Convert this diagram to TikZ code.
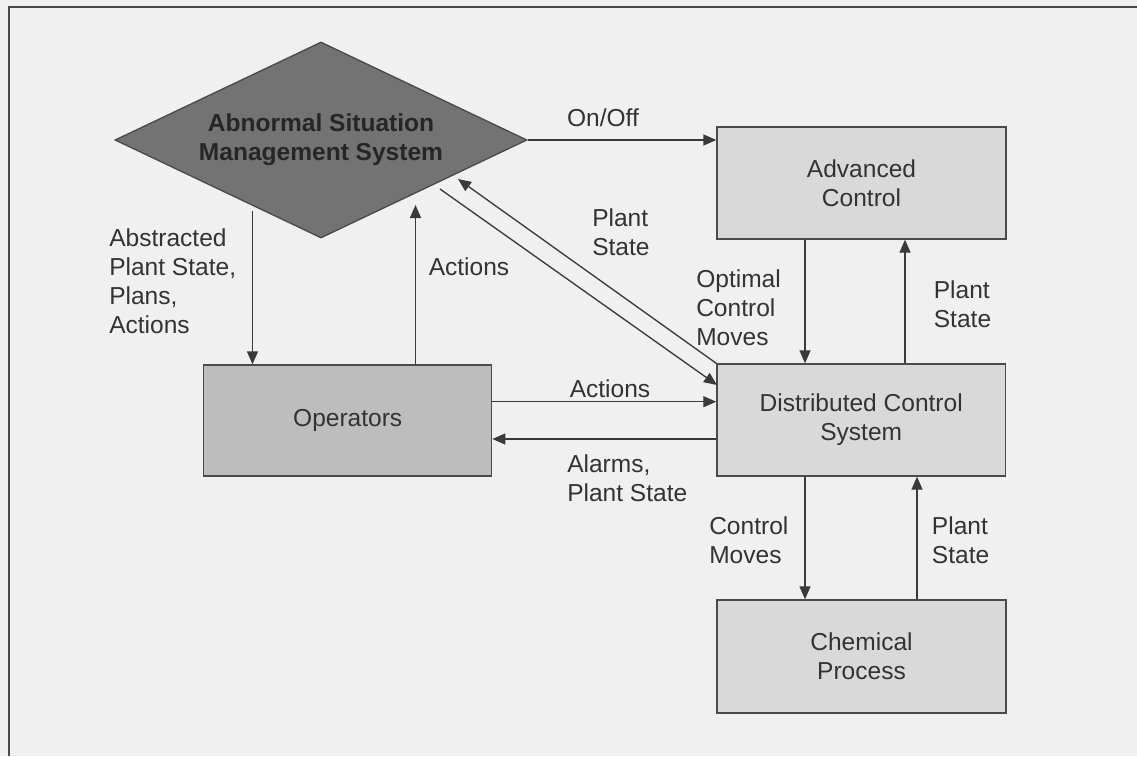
\documentclass[tikz,border=0pt]{standalone}
\usepackage{fontspec}
\setmainfont{Liberation Sans}
\usetikzlibrary{shapes.geometric,arrows.meta}
\definecolor{bg}{HTML}{F0F0F0}
\definecolor{edge}{HTML}{4A4A4A}
\definecolor{wire}{HTML}{3A3A3A}
\definecolor{txt}{HTML}{333333}
\definecolor{asmsfill}{HTML}{737373}
\definecolor{opsfill}{HTML}{BDBDBD}
\definecolor{boxfill}{HTML}{D9D9D9}
\begin{document}
\begin{tikzpicture}[x=0.75pt,y=-0.75pt,
  every node/.style={font=\fontsize{18.4}{21.75}\selectfont, text=txt},
  box/.style={draw=edge, line width=1pt, rectangle, inner sep=0pt, align=center, fill=boxfill},
  lbl/.style={inner sep=0pt, align=left, anchor=west},
  arr/.style={draw=wire, line width=1pt, -{Triangle[length=9.75pt,width=8.25pt]}}]
\fill[bg] (0,0) rectangle (1137,756);
\useasboundingbox (0,0) rectangle (1137,756);
\draw[edge, line width=1pt] (9,756) -- (9,7) -- (1137,7);

% nodes
\node[diamond, draw=edge, line width=1pt, fill=asmsfill, inner sep=0pt, aspect=2.1,
      minimum width=309pt, minimum height=147pt, align=center,
      font=\fontsize{18.4}{21.75}\selectfont\bfseries, text=black!85] (asms) at (321,140)
      {Abnormal Situation\\Management System};
\node[box, fill=opsfill, minimum width=216pt, minimum height=83.25pt] (ops) at (347.7,420.5) {Operators};
\node[box, minimum width=216.75pt, minimum height=84pt] (adv) at (861.5,183) {Advanced\\Control};
\node[box, minimum width=216.4pt, minimum height=84pt] (dcs) at (861.2,420) {Distributed Control\\System};
\node[box, minimum width=216.75pt, minimum height=84.75pt] (chem) at (861.5,656.5) {Chemical\\Process};

% helper coordinates
\coordinate (pA) at (252.5,211);
\coordinate (pB) at (415.5,205);
\coordinate (pC) at (458,179);
\coordinate (pD) at (440,189);
\coordinate (pE) at (717,385);
\coordinate (xo) at (805,0);
\coordinate (xp) at (905,0);
\coordinate (xq) at (917,0);
\coordinate (ya) at (0,401.7);
\coordinate (yb) at (0,439);

% connectors
\draw[arr] (asms.east) -- (adv.west |- asms.east);
\draw[arr] (pA) -- (pA |- ops.north);
\draw[arr] (pB |- ops.north) -- (pB);
\draw[arr] (dcs.north west) -- (pC);
\draw[arr] (pD) -- (pE);
\draw[arr] (adv.south -| xo) -- (dcs.north -| xo);
\draw[arr] (dcs.north -| xp) -- (adv.south -| xp);
\draw[arr] (ops.east |- ya) -- (dcs.west |- ya);
\draw[arr] (dcs.west |- yb) -- (ops.east |- yb);
\draw[arr] (dcs.south -| xo) -- (chem.north -| xo);
\draw[arr] (chem.north -| xq) -- (dcs.south -| xq);

% labels
\node[lbl, anchor=center] (lonoff) at (603,118) {On/Off};
\node[lbl] (labs) at (109,281.5) {Abstracted\\Plant State,\\Plans,\\Actions};
\node[lbl] (lact1) at (428.5,267) {Actions};
\node[lbl] (lps1) at (592,232.5) {Plant\\State};
\node[lbl] (lopt) at (696,307.5) {Optimal\\Control\\Moves};
\node[lbl] (lps2) at (933.6,304) {Plant\\State};
\node[lbl, anchor=center] (lact2) at (610,389) {Actions};
\node[lbl] (lalarm) at (567,478) {Alarms,\\Plant State};
\node[lbl] (lcm) at (709,540) {Control\\Moves};
\node[lbl] (lps3) at (931.7,540) {Plant\\State};
\end{tikzpicture}
\end{document}
